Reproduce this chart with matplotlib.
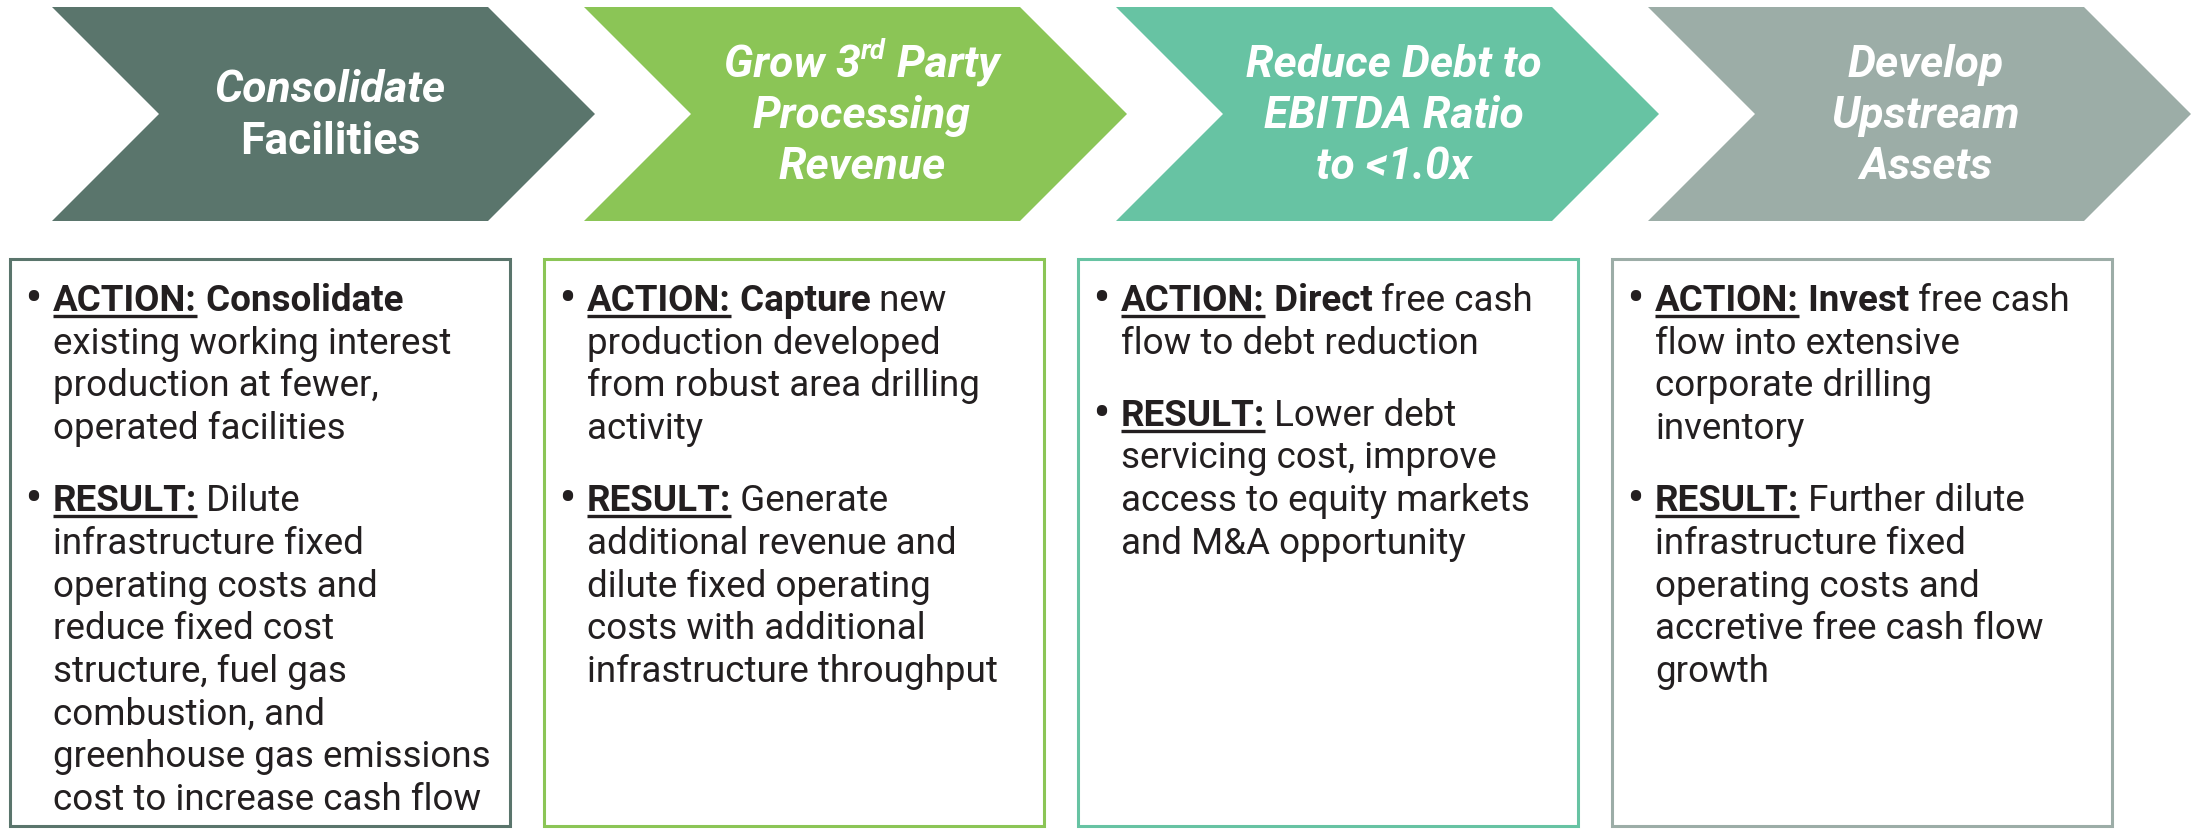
import re
import matplotlib
matplotlib.use("Agg")
import matplotlib.pyplot as plt
from matplotlib.patches import Polygon, Rectangle

# --- content ---
titles = [
    ["Consolidate", "Facilities"],
    ["Grow 3{rd} Party", "Processing", "Revenue"],
    ["Reduce Debt to", "EBITDA Ratio", "to <1.0x"],
    ["Develop", "Upstream", "Assets"],
]
title_italic = [[True, False], [True, True, True], [True, True, True], [True, True, True]]
colors = ["#5a756c", "#8bc556", "#67c3a3", "#9cada7"]

action_bold = ["Consolidate", "Capture", "Direct", "Invest"]
action_lines = [
    ["", "existing working interest", "production at fewer,", "operated facilities"],
    [" new", "production developed", "from robust area drilling", "activity"],
    [" free cash", "flow to debt reduction"],
    [" free cash", "flow into extensive", "corporate drilling", "inventory"],
]
result_lines = [
    ["Dilute", "infrastructure fixed", "operating costs and", "reduce fixed cost",
     "structure, fuel gas", "combustion, and", "greenhouse gas emissions",
     "cost to increase cash flow"],
    ["Generate", "additional revenue and", "dilute fixed operating",
     "costs with additional", "infrastructure throughput"],
    ["Lower debt", "servicing cost, improve", "access to equity markets",
     "and M&A opportunity"],
    ["Further dilute", "infrastructure fixed", "operating costs and",
     "accretive free cash flow", "growth"],
]

TEXT = "#231f20"
FONT = "Roboto"

fig = plt.figure(figsize=(21.98, 8.30), dpi=100)
ax = fig.add_axes([0, 0, 1, 1])
ax.set_xlim(0, 2198)
ax.set_ylim(830, 0)
ax.axis("off")
renderer = fig.canvas.get_renderer()


def width(s, **kw):
    # measure with guards so leading/trailing spaces count
    t1 = ax.text(0, 0, "|" + s + "|", family=FONT, **kw)
    t2 = ax.text(0, 0, "||", family=FONT, **kw)
    w = t1.get_window_extent(renderer).width - t2.get_window_extent(renderer).width
    t1.remove()
    t2.remove()
    return w


def draw_segs(x, y, segs, center=False, color=TEXT):
    ws = [width(s, **p) for s, p, _ in segs]
    if center:
        x -= sum(ws) / 2
    for (s, p, extra), w in zip(segs, ws):
        ax.text(x, y + extra.get("dy", 0), s, family=FONT, color=color,
                va="baseline", ha="left", **p)
        if extra.get("underline"):
            ax.plot([x, x + w], [y + 5, y + 5], color=color, lw=2.4,
                    solid_capstyle="butt")
        x += w


# fit font sizes to reference widths
body_size = 20 * 436 / width("greenhouse gas emissions", fontsize=20)
title_size = 20 * 231 / width("Consolidate", fontsize=20, style="italic", weight="bold")

reg = dict(fontsize=body_size)
bold = dict(fontsize=body_size, weight="bold")
dot = dict(fontsize=body_size * 1.2, weight="bold")

step = 532
top, bot = 7, 221
mid = (top + bot) / 2
depth = (bot - top) / 2

for i in range(4):
    left = 52 + i * step
    right = left + 436
    pts = [(left, top), (right, top), (right + depth, mid), (right, bot),
           (left, bot), (left + depth, mid)]
    ax.add_patch(Polygon(pts, closed=True, facecolor=colors[i], edgecolor="none"))

    n = len(titles[i])
    cx = left + 278
    for k, line in enumerate(titles[i]):
        style = "italic" if title_italic[i][k] else "normal"
        tp = dict(fontsize=title_size, weight="bold", style=style)
        sp = dict(fontsize=title_size * 0.62, weight="bold", style=style)
        segs = []
        for part in re.split(r"(\{[^}]*\})", line):
            if not part:
                continue
            if part.startswith("{"):
                segs.append((part[1:-1], sp, {"dy": -title_size * 0.55}))
            else:
                segs.append((part, tp, {}))
        yb = mid + (k - (n - 1) / 2) * 51 + 14
        draw_segs(cx, yb, segs, center=True, color="white")

    # text box
    bx = 10 + i * 534
    ax.add_patch(Rectangle((bx, 259), 500, 567, facecolor="white",
                           edgecolor=colors[i], lw=2.2))
    tx = bx + 43
    y = 311
    lh = 42.7
    ax.text(bx + 15, y + 1, "\u2022", family=FONT, color=TEXT, va="baseline", **dot)
    draw_segs(tx, y, [("ACTION:", bold, {"underline": True}),
                      (" " + action_bold[i], bold, {}),
                      (action_lines[i][0], reg, {})])
    for line in action_lines[i][1:]:
        y += lh
        draw_segs(tx, y, [(line, reg, {})])
    y += 72
    ax.text(bx + 15, y + 1, "\u2022", family=FONT, color=TEXT, va="baseline", **dot)
    draw_segs(tx, y, [("RESULT:", bold, {"underline": True}),
                      (" " + result_lines[i][0], reg, {})])
    for line in result_lines[i][1:]:
        y += lh
        draw_segs(tx, y, [(line, reg, {})])

fig.savefig("out.png", dpi=100)
